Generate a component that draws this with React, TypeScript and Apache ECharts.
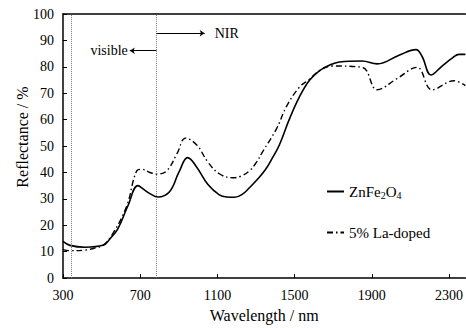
import React, { useEffect, useRef } from "react";
import * as echarts from "echarts";

const xTicks = [300, 700, 1100, 1500, 1900, 2300];
const yTicks = [0, 10, 20, 30, 40, 50, 60, 70, 80, 90, 100];

const znFe2O4: [number, number][] = [
  [300, 13.9], [336, 12.4], [414, 11.7], [507, 12.4], [545, 15], [584, 18.6],
  [636, 27.3], [688, 35], [720, 33.5], [750, 32], [791, 30.7], [853, 32.8],
  [900, 40], [946, 45.6], [993, 42], [1050, 35.5], [1110, 31.5], [1150, 30.7],
  [1189, 30.6], [1230, 31.8], [1266, 34.2], [1310, 37.6], [1350, 41.2],
  [1385, 45.5], [1421, 50.4], [1473, 60.2], [1525, 68.6],
  [1576, 74.8], [1628, 78.5], [1680, 80.6], [1732, 81.8], [1850, 82.2],
  [1928, 81.1], [2041, 84.4], [2129, 86.5], [2160, 84], [2207, 76.9],
  [2264, 80.3], [2320, 83.5], [2352, 84.7], [2385, 84.7],
];

const laDoped: [number, number][] = [
  [300, 10.8], [336, 10.4], [414, 10.6], [470, 11.5], [507, 12.4], [558, 16.8],
  [630, 27.3], [682, 40.6], [708, 41.2], [750, 40], [785, 39.4], [837, 40.6],
  [890, 47], [935, 53], [993, 50.4], [1050, 44], [1110, 39.5], [1179, 38],
  [1222, 38.6], [1266, 40.6], [1300, 43.6], [1334, 47.8], [1406, 56.5],
  [1458, 65], [1525, 72.3], [1576, 75.2], [1628, 78.5], [1695, 80.3],
  [1850, 79.8], [1928, 71.3], [2026, 75.3], [2134, 79.8], [2212, 71.3],
  [2326, 74.7], [2385, 72.9],
];

const boundaries = [345, 784];
const seriesNames = ["ZnFe2O4", "5% La-doped"];
const yTitle = "Reflectance / %";
const xTitle = "Wavelength / nm";

const FONT = "Liberation Serif";

export default function App() {
  const ref = useRef<HTMLDivElement>(null);
  useEffect(() => {
    document.body.style.margin = "0";
    const chart = echarts.init(ref.current!, undefined, { renderer: "svg" });
    const axisLine = { show: true, lineStyle: { color: "#000", width: 1.5 } };
    chart.setOption({
      animation: false,
      textStyle: { fontFamily: FONT },
      grid: { left: 63, top: 14, right: 0, bottom: 40 },
      graphic: [
        {
          type: "text",
          x: 22,
          y: 137,
          rotation: Math.PI / 2,
          style: {
            text: yTitle,
            fontFamily: FONT,
            fontSize: 16,
            fill: "#000",
            align: "center",
            verticalAlign: "middle",
          },
        },
      ],
      legend: {
        orient: "vertical",
        left: 326,
        top: 184,
        itemWidth: 17,
        itemHeight: 14,
        itemGap: 25,
        padding: 0,
        data: seriesNames,
        itemStyle: { opacity: 0 },
        formatter: (n: string) => (n === "ZnFe2O4" ? "ZnFe{s|2}O{s|4}" : n),
        textStyle: {
          fontFamily: FONT,
          fontSize: 15,
          color: "#000",
          rich: { s: { fontFamily: FONT, fontSize: 10, padding: [7, 0, 0, 0], color: "#000" } },
        },
      },
      xAxis: [
        {
          type: "value",
          min: 300,
          max: 2385,
          interval: 400,
          name: xTitle,
          nameLocation: "middle",
          nameGap: 27,
          nameTextStyle: { fontFamily: FONT, fontSize: 16, color: "#000" },
          axisLine,
          axisTick: { show: true, inside: true, length: 4, lineStyle: { color: "#000" } },
          axisLabel: {
            fontFamily: FONT,
            fontSize: 14,
            color: "#000",
            margin: 10,
            showMaxLabel: false,
            formatter: (v: number) => (xTicks.includes(v) ? String(v) : ""),
          },
          splitLine: { show: false },
        },
        {
          type: "value",
          position: "top",
          min: 300,
          max: 2385,
          interval: 400,
          axisLine,
          axisTick: { show: false },
          axisLabel: { show: false },
          splitLine: { show: false },
        },
      ],
      yAxis: {
        type: "value",
        min: 0,
        max: 100,
        interval: 10,
        axisLine,
        axisTick: { show: true, inside: true, length: 4, lineStyle: { color: "#000" } },
        axisLabel: {
          fontFamily: FONT,
          fontSize: 14,
          color: "#000",
          margin: 9,
          formatter: (v: number) => (yTicks.includes(v) ? String(v) : ""),
        },
        splitLine: { show: false },
      },
      series: [
        {
          name: seriesNames[0],
          type: "line",
          data: znFe2O4,
          smooth: 0.4,
          showSymbol: false,
          symbol: "none",
          lineStyle: { color: "#000", width: 1.6 },
          itemStyle: { color: "#000" },
          markLine: {
            silent: true,
            symbol: "none",
            animation: false,
            data: [
              ...boundaries.map((b) => ({
                xAxis: b,
                lineStyle: { color: "#777", width: 1, type: [1, 1] },
                label: { show: false },
              })),
              [
                {
                  coord: [784, 92.7],
                  symbol: "none",
                  lineStyle: { color: "#000", width: 1, type: "solid" },
                  label: {
                    show: true,
                    position: "end",
                    distance: 10,
                    formatter: "NIR",
                    fontFamily: FONT,
                    fontSize: 14,
                    color: "#000",
                  },
                },
                { coord: [1034, 92.7], symbol: "arrow", symbolSize: 5 },
              ],
              [
                {
                  coord: [784, 86.1],
                  symbol: "none",
                  lineStyle: { color: "#000", width: 1, type: "solid" },
                  label: {
                    show: true,
                    position: "end",
                    distance: 2,
                    formatter: "visible",
                    fontFamily: FONT,
                    fontSize: 14,
                    color: "#000",
                  },
                },
                { coord: [646, 86.1], symbol: "arrow", symbolSize: 5 },
              ],
            ],
          },
        },
        {
          name: seriesNames[1],
          type: "line",
          data: laDoped,
          smooth: 0.4,
          showSymbol: false,
          symbol: "none",
          lineStyle: { color: "#000", width: 1.4, type: [6, 3, 1.5, 3] },
          itemStyle: { color: "#000" },
        },
      ],
    });
    return () => chart.dispose();
  }, []);
  return <div ref={ref} style={{ width: 466, height: 328 }} />;
}
